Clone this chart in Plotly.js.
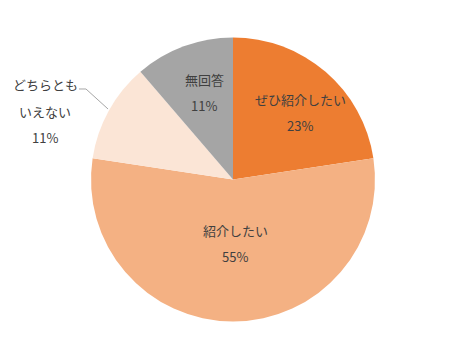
<!DOCTYPE html>
<html>
<head>
<meta charset="utf-8">
<script src="https://cdn.plot.ly/plotly-3.0.1.min.js"></script>
<style>html,body{margin:0;padding:0;background:#fff;}#chart{width:466px;height:359px;}</style>
</head>
<body>
<div id="chart"></div>
<script>
// Data
const labels = ["ぜひ紹介したい", "紹介したい", "どちらとも<br>いえない", "無回答"];
const values = [22.6, 54.8, 11.3, 11.3];
const colors = ["#ED7D31", "#F4B183", "#FBE5D6", "#A5A5A5"];

const W = 466, H = 359;
const cx = 233, cy = 179.5, R = 142;

// label anchor positions (px) for each slice's first line
const labelPos = [[300, 99], [235, 230], [45, 85], [204, 79]];
const lineGap = 26;

const total = values.reduce((a, b) => a + b, 0);
const annotations = [];
labels.forEach((lab, i) => {
  const lines = lab.split("<br>");
  lines.push(Math.round(values[i] / total * 100) + "%");
  lines.forEach((t, j) => {
    annotations.push({
      text: t, showarrow: false, xref: "paper", yref: "paper",
      x: labelPos[i][0] / W, y: 1 - (labelPos[i][1] + j * lineGap) / H,
      xanchor: "center", yanchor: "middle",
      font: {family: "Noto Sans CJK JP, sans-serif", size: 13, color: "#404040"}
    });
  });
});

function px(x) { return (x / W).toFixed(4); }
function py(y) { return (1 - y / H).toFixed(4); }

const trace = {
  type: "pie",
  labels: labels,
  values: values,
  sort: false,
  direction: "clockwise",
  rotation: 0,
  marker: {colors: colors, line: {width: 0}},
  textinfo: "none",
  hoverinfo: "none",
  showlegend: false,
  domain: {x: [(cx - R) / W, (cx + R) / W], y: [(H - cy - R) / H, (H - cy + R) / H]}
};

const layout = {
  width: W, height: H,
  margin: {l: 0, r: 0, t: 0, b: 0},
  paper_bgcolor: "#fff",
  showlegend: false,
  annotations: annotations,
  shapes: [{
    type: "path", xref: "paper", yref: "paper",
    path: `M ${px(79)} ${py(89)} L ${px(86)} ${py(89)} L ${px(108)} ${py(109)}`,
    line: {color: "#A6A6A6", width: 1}
  }]
};

Plotly.newPlot("chart", [trace], layout, {displayModeBar: false, staticPlot: true});
</script>
</body>
</html>
